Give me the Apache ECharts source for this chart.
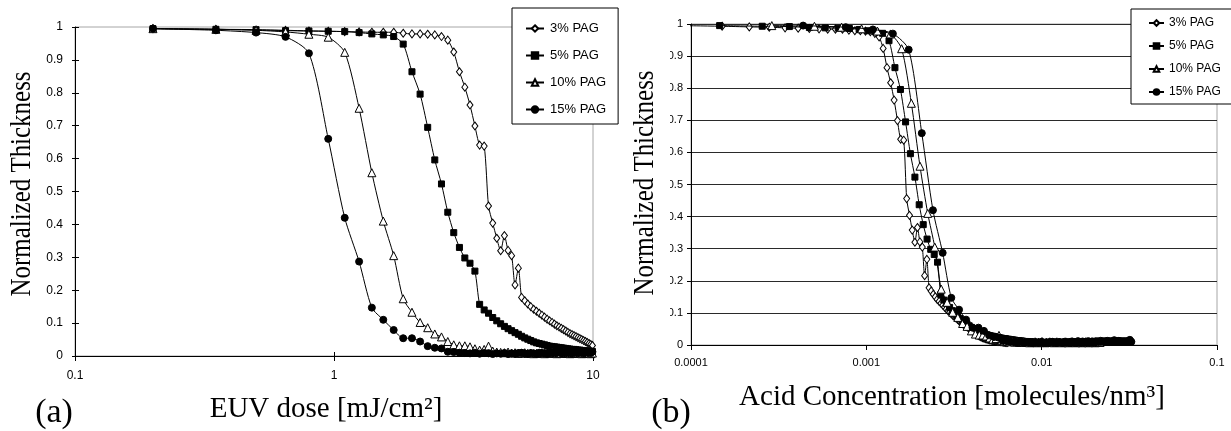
<!DOCTYPE html>
<html>
<head>
<meta charset="utf-8">
<script src="https://cdn.jsdelivr.net/npm/echarts@6/dist/echarts.min.js"></script>
<style>
  html, body { margin: 0; padding: 0; background: #fff; }
  #chart { width: 1231px; height: 431px; }
</style>
</head>
<body>
<div id="chart"></div>
<script>
// EUV exposure doses [mJ/cm2], shared by all four PAG loadings
const dose = [
  0.2, 0.35, 0.5, 0.65, 0.8, 0.95, 1.1, 1.25, 1.4, 1.55,
  1.7, 1.85, 2.0, 2.15, 2.3, 2.45, 2.6, 2.75, 2.9, 3.05,
  3.2, 3.35, 3.5, 3.65, 3.8, 3.95, 4.1, 4.25, 4.4, 4.55,
  4.7, 4.85, 5.0, 5.15, 5.3, 5.45, 5.6, 5.75, 5.9, 6.05,
  6.2, 6.35, 6.5, 6.65, 6.8, 6.95, 7.1, 7.25, 7.4, 7.55,
  7.7, 7.85, 8.0, 8.15, 8.3, 8.45, 8.6, 8.75, 8.9, 9.05,
  9.2, 9.35, 9.5, 9.65, 9.8, 9.95, 10.1, 10.25, 10.4, 10.55,
  10.7, 10.85, 11.0, 11.15, 11.3, 11.45, 11.6, 11.75, 11.9, 12.05,
  12.2, 12.35, 12.5, 12.65, 12.8, 12.95, 13.1, 13.25, 13.4, 13.55,
  13.7, 13.85, 14.0, 14.15, 14.3, 14.45, 14.6, 14.75, 14.9
];

const seriesNames = ['3% PAG', '5% PAG', '10% PAG', '15% PAG'];

// Normalized remaining thickness per dose
const thick3 = [
  0.995, 0.993, 0.991, 0.990, 0.988, 0.987, 0.986, 0.985, 0.984, 0.984,
  0.984, 0.981, 0.979, 0.979, 0.978, 0.976, 0.971, 0.960, 0.924, 0.864,
  0.817, 0.763, 0.699, 0.641, 0.638, 0.456, 0.404, 0.358, 0.320, 0.366,
  0.321, 0.305, 0.216, 0.267, 0.178, 0.168, 0.158, 0.150, 0.142, 0.136,
  0.130, 0.124, 0.118, 0.112, 0.107, 0.102, 0.097, 0.092, 0.088, 0.084,
  0.080, 0.076, 0.072, 0.068, 0.065, 0.062, 0.059, 0.056, 0.053, 0.050,
  0.047, 0.044, 0.041, 0.038, 0.035, 0.032, 0.030, 0.028, 0.026, 0.025,
  0.023, 0.022, 0.021, 0.020, 0.019, 0.018, 0.017, 0.016, 0.016, 0.015,
  0.014, 0.014, 0.013, 0.013, 0.012, 0.012, 0.011, 0.011, 0.011, 0.010,
  0.010, 0.010, 0.009, 0.009, 0.009, 0.008, 0.008, 0.008, 0.008
];
const thick5 = [
  0.995, 0.993, 0.992, 0.989, 0.988, 0.987, 0.986, 0.983, 0.979, 0.976,
  0.971, 0.948, 0.864, 0.796, 0.695, 0.596, 0.523, 0.437, 0.375, 0.330,
  0.298, 0.282, 0.258, 0.157, 0.140, 0.130, 0.117, 0.107, 0.098, 0.090,
  0.083, 0.077, 0.071, 0.066, 0.060, 0.055, 0.051, 0.047, 0.043, 0.040,
  0.038, 0.036, 0.034, 0.032, 0.030, 0.029, 0.028, 0.027, 0.026, 0.025,
  0.024, 0.023, 0.022, 0.021, 0.020, 0.020, 0.019, 0.018, 0.018, 0.017,
  0.016, 0.016, 0.015, 0.015, 0.014, 0.014, 0.013, 0.013, 0.012, 0.012,
  0.012, 0.011, 0.011, 0.011, 0.010, 0.010, 0.010, 0.010, 0.009, 0.009,
  0.009, 0.009, 0.009, 0.008, 0.008, 0.008, 0.008, 0.008, 0.008, 0.007,
  0.007, 0.007, 0.007, 0.007, 0.007, 0.007, 0.007, 0.006, 0.006
];
const thick10 = [
  0.995, 0.993, 0.990, 0.985, 0.978, 0.969, 0.923, 0.753, 0.557, 0.410,
  0.305, 0.174, 0.133, 0.102, 0.086, 0.067, 0.058, 0.044, 0.034, 0.031,
  0.031, 0.028, 0.022, 0.018, 0.020, 0.030, 0.015, 0.012, 0.011, 0.010,
  0.012, 0.009, 0.010, 0.008, 0.009, 0.010, 0.008, 0.009, 0.007, 0.008,
  0.008, 0.010, 0.007, 0.009, 0.008, 0.011, 0.008, 0.007, 0.009, 0.008,
  0.010, 0.008, 0.009, 0.007, 0.008, 0.010, 0.008, 0.009, 0.008, 0.007,
  0.009, 0.008, 0.010, 0.008, 0.007, 0.009, 0.008, 0.008, 0.010, 0.008,
  0.009, 0.007, 0.008, 0.010, 0.008, 0.009, 0.008, 0.007, 0.009, 0.008,
  0.008, 0.010, 0.008, 0.009, 0.007, 0.008, 0.009, 0.008, 0.010, 0.008,
  0.009, 0.008, 0.007, 0.009, 0.008, 0.010, 0.008, 0.009, 0.008
];
const thick15 = [
  0.995, 0.990, 0.983, 0.970, 0.920, 0.660, 0.420, 0.287, 0.147, 0.110,
  0.079, 0.054, 0.054, 0.044, 0.030, 0.025, 0.023, 0.013, 0.012, 0.010,
  0.009, 0.008, 0.010, 0.007, 0.009, 0.008, 0.006, 0.008, 0.007, 0.009,
  0.006, 0.008, 0.007, 0.009, 0.010, 0.008, 0.007, 0.009, 0.008, 0.007,
  0.010, 0.008, 0.009, 0.007, 0.011, 0.009, 0.008, 0.010, 0.012, 0.009,
  0.008, 0.011, 0.009, 0.010, 0.008, 0.012, 0.010, 0.009, 0.011, 0.010,
  0.009, 0.012, 0.010, 0.011, 0.009, 0.013, 0.011, 0.010, 0.012, 0.010,
  0.011, 0.013, 0.010, 0.012, 0.011, 0.010, 0.012, 0.011, 0.015, 0.011,
  0.010, 0.012, 0.011, 0.013, 0.010, 0.012, 0.011, 0.010, 0.012, 0.011,
  0.010, 0.012, 0.011, 0.010, 0.012, 0.011, 0.016, 0.011, 0.010
];
const thickness = [thick3, thick5, thick10, thick15];

// Acid generated per unit dose [molecules/nm3 per mJ/cm2] for each loading
const acidPerDose = [4.3e-4, 7.28e-4, 1.445e-3, 2.18e-3];

// Tick labels
const yTickLabels = ['0', '0.1', '0.2', '0.3', '0.4', '0.5', '0.6', '0.7', '0.8', '0.9', '1'];
const doseTickLabels = ['0.1', '1', '10'];
const acidTickLabels = ['0.0001', '0.001', '0.01', '0.1'];

const SANS = '"Liberation Sans", Arial, sans-serif';
const SERIF = '"Liberation Serif", "Times New Roman", serif';

const markers = [
  { symbol: 'diamond', size: [6, 8], fill: '#fff' },
  { symbol: 'rect', size: 6, fill: '#000' },
  { symbol: 'triangle', size: 8, fill: '#fff' },
  { symbol: 'circle', size: 7, fill: '#000' }
];

function yLabel(v) {
  return yTickLabels[Math.round(v * 10)];
}
function logLabel(list, minExp) {
  return function (v) {
    const k = Math.round(Math.log10(v)) - minExp;
    return list[k] !== undefined ? list[k] : '';
  };
}

const chart = echarts.init(document.getElementById('chart'), null, { renderer: 'canvas' });

const series = [];
seriesNames.forEach(function (name, s) {
  const m = markers[s];
  const common = {
    name: name,
    type: 'line',
    smooth: 0.25,
    symbol: m.symbol,
    symbolSize: m.size,
    showAllSymbol: true,
    clip: true,
    lineStyle: { color: '#000', width: 1 },
    itemStyle: { color: m.fill, borderColor: '#000', borderWidth: 1 },
    emphasis: { disabled: true },
    z: 2 + s
  };
  series.push(Object.assign({}, common, {
    xAxisIndex: 0, yAxisIndex: 0,
    data: dose.map(function (d, i) { return [d, thickness[s][i]]; })
  }));
  series.push(Object.assign({}, common, {
    xAxisIndex: 1, yAxisIndex: 1,
    data: dose.map(function (d, i) { return [d * acidPerDose[s], thickness[s][i]]; })
  }));
});

const option = {
  animation: false,
  backgroundColor: '#fff',
  grid: [
    { left: 75, top: 27, width: 518, height: 329, show: true, borderColor: '#a6a6a6', borderWidth: 1, backgroundColor: 'transparent' },
    { left: 691, top: 24, width: 526, height: 321, show: true, borderColor: '#a6a6a6', borderWidth: 1, backgroundColor: 'transparent' }
  ],
  xAxis: [
    {
      gridIndex: 0, type: 'log', logBase: 10, min: 0.1, max: 10, position: 'bottom',
      axisLine: { show: true, onZero: false, lineStyle: { color: '#000', width: 1 } },
      axisTick: { show: true, length: 5, lineStyle: { color: '#000' } },
      axisLabel: { margin: 14, color: '#000', fontFamily: SANS, fontSize: 12, formatter: logLabel(doseTickLabels, -1) },
      splitLine: { show: false }
    },
    {
      gridIndex: 1, type: 'log', logBase: 10, min: 0.0001, max: 0.1, position: 'bottom',
      axisLine: { show: true, onZero: false, lineStyle: { color: '#000', width: 1 } },
      axisTick: { show: true, length: 5, lineStyle: { color: '#000' } },
      axisLabel: { margin: 12, color: '#000', fontFamily: SANS, fontSize: 11, formatter: logLabel(acidTickLabels, -4) },
      splitLine: { show: false }
    },
    {
      gridIndex: 0, type: 'log', logBase: 10, min: 0.1, max: 10, position: 'bottom', offset: 0,
      axisLine: { show: false },
      axisTick: { show: true, inside: true, length: 4, lineStyle: { color: '#000' } },
      axisLabel: { show: false },
      splitLine: { show: false }
    }
  ],
  yAxis: [
    {
      gridIndex: 0, type: 'value', min: 0, max: 1, interval: 0.1, position: 'left',
      axisLine: { show: true, onZero: false, lineStyle: { color: '#000', width: 1 } },
      axisTick: { show: true, length: 3, lineStyle: { color: '#000' } },
      axisLabel: { margin: 12, color: '#000', fontFamily: SANS, fontSize: 12, formatter: yLabel },
      splitLine: { show: false }
    },
    {
      gridIndex: 1, type: 'value', min: 0, max: 1, interval: 0.1, position: 'left',
      axisLine: { show: true, onZero: false, lineStyle: { color: '#000', width: 1 } },
      axisTick: { show: true, length: 4, lineStyle: { color: '#000' } },
      axisLabel: { margin: 8, color: '#000', fontFamily: SANS, fontSize: 11, formatter: yLabel },
      splitLine: { show: true, lineStyle: { color: '#2a2a2a', width: 1 } }
    },
    {
      gridIndex: 0, type: 'value', min: 0, max: 1, interval: 0.1, position: 'left', offset: 0,
      axisLine: { show: false },
      axisTick: { show: true, inside: true, length: 4, lineStyle: { color: '#000' } },
      axisLabel: { show: false },
      splitLine: { show: false }
    }
  ],
  legend: [
    {
      data: seriesNames, orient: 'vertical', left: 512, top: 8,
      padding: [14, 12, 8, 13], itemGap: 14, itemWidth: 18, itemHeight: 8,
      backgroundColor: '#fff', borderColor: '#000', borderWidth: 1, borderRadius: 0,
      selectedMode: false,
      textStyle: { color: '#000', fontFamily: SANS, fontSize: 13, padding: [0, 0, 0, 1] }
    },
    {
      data: seriesNames, orient: 'vertical', left: 1131, top: 9,
      padding: [8, 12, 6, 17], itemGap: 11, itemWidth: 15, itemHeight: 7,
      backgroundColor: '#fff', borderColor: '#000', borderWidth: 1, borderRadius: 0,
      selectedMode: false,
      textStyle: { color: '#000', fontFamily: SANS, fontSize: 12 }
    }
  ],
  graphic: [
    // the sheet edge hides the leading digit of the (b) tick labels
    { type: 'rect', z: 100, shape: { x: 660, y: 40, width: 10, height: 290 }, style: { fill: '#fff' } },
    {
      type: 'text', z: 100, x: 22, y: 184, rotation: Math.PI / 2, scaleX: 0.86,
      style: { text: 'Normalized Thickness', font: '29px ' + SERIF, fill: '#000', align: 'center', verticalAlign: 'middle' }
    },
    {
      type: 'text', z: 100, x: 645, y: 183, rotation: Math.PI / 2, scaleX: 0.86,
      style: { text: 'Normalized Thickness', font: '29px ' + SERIF, fill: '#000', align: 'center', verticalAlign: 'middle' }
    },
    {
      type: 'text', z: 100, x: 326, y: 409,
      style: { text: 'EUV dose [mJ/cm²]', font: '29px ' + SERIF, fill: '#000', align: 'center', verticalAlign: 'middle' }
    },
    {
      type: 'text', z: 100, x: 952, y: 397,
      style: { text: 'Acid Concentration [molecules/nm³]', font: '29px ' + SERIF, fill: '#000', align: 'center', verticalAlign: 'middle' }
    },
    {
      type: 'text', z: 100, x: 54, y: 413,
      style: { text: '(a)', font: '34px ' + SERIF, fill: '#000', align: 'center', verticalAlign: 'middle' }
    },
    {
      type: 'text', z: 100, x: 671, y: 413,
      style: { text: '(b)', font: '34px ' + SERIF, fill: '#000', align: 'center', verticalAlign: 'middle' }
    }
  ],
  series: series
};

chart.setOption(option);
</script>
</body>
</html>
